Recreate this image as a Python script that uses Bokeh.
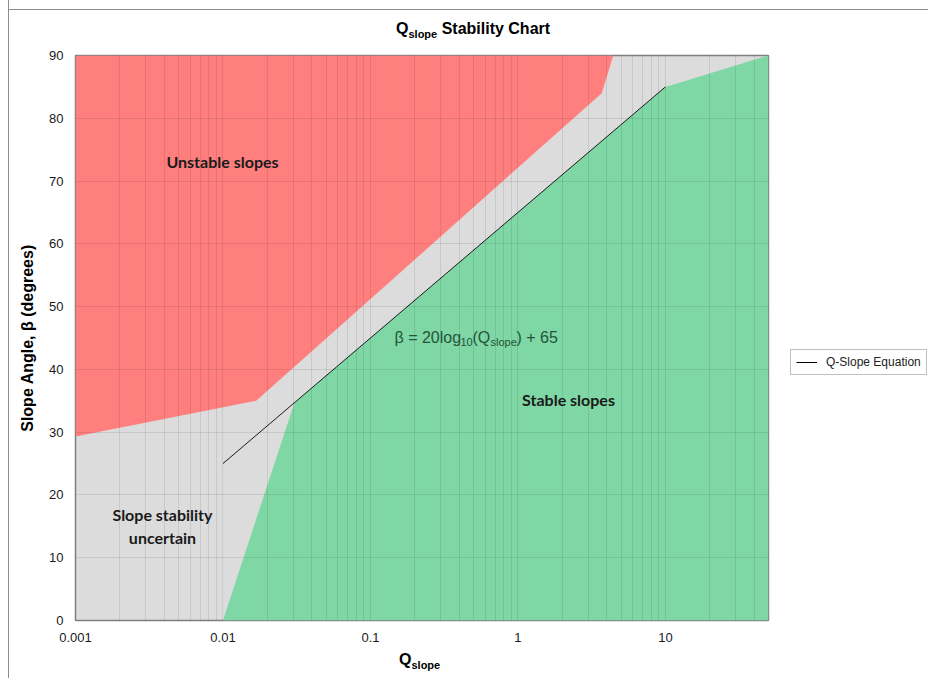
from bokeh.plotting import figure
from bokeh.models import Range1d, FixedTicker, Label, Legend, LegendItem, Div
from bokeh.layouts import column, row
from bokeh.embed import file_html
from bokeh.resources import INLINE

# ---- data ----
red_q = [0.001, 0.001, 0.0168, 3.7, 4.43]
red_beta = [90, 29.3, 35.0, 84.0, 90]
green_q = [0.01, 0.0305, 10, 50, 50]
green_beta = [0, 34.7, 85, 90, 0]
eq_q = [0.01, 10]
eq_beta = [25, 85]
x_ticks = [0.001, 0.01, 0.1, 1, 10]
x_tick_labels = ["0.001", "0.01", "0.1", "1", "10"]
x_max = 50
x_minor = [m * t for t in x_ticks for m in range(2, 10) if m * t <= x_max]
y_ticks = [0, 10, 20, 30, 40, 50, 60, 70, 80, 90]

W = 928
TITLE_H = 45
P_H = 605
XL_H = 28
P_W = 780
FT = 55 - TITLE_H          # frame top inside figure
FB = 620 - TITLE_H         # frame bottom inside figure

LINE_V = "linear-gradient(#8c8c8c, #8c8c8c) 8px 0px / 1px 100% no-repeat"
LINE_H = "linear-gradient(#8c8c8c, #8c8c8c) 8px 9px / 100% 1px no-repeat"

title_div = Div(width=W, height=TITLE_H, margin=0,
                styles={"background": LINE_V + ", " + LINE_H},
                text=('<div style="margin:0;padding:21px 0 0 396px;'
                      'font:bold 16px \'Liberation Sans\', Arial, sans-serif;'
                      'line-height:16px;color:#000;white-space:nowrap">'
                      'Q<span style="font-size:11px;position:relative;top:4px">slope</span>'
                      ' Stability Chart</div>'))

p = figure(width=P_W, height=P_H, x_axis_type="log",
           x_range=Range1d(0.001, x_max), y_range=Range1d(0, 90),
           output_backend="svg", toolbar_location=None,
           min_border_left=75, min_border_top=FT,
           min_border_right=P_W - 768, min_border_bottom=P_H - FB)
p.styles = {"background": LINE_V}
p.background_fill_color = "#DCDCDC"
p.border_fill_color = None
p.outline_line_color = "#7f7f7f"
p.outline_line_width = 1.5

p.patch(red_q, red_beta, fill_color="#FF7F7F", line_color=None)
p.patch(green_q, green_beta, fill_color="#7FD7A5", line_color=None)
p.line(eq_q, eq_beta, line_color="#1a1a1a", line_width=1)

# axes
p.xaxis.ticker = FixedTicker(ticks=x_ticks, minor_ticks=x_minor)
p.xaxis.major_label_overrides = {t: l for t, l in zip(x_ticks, x_tick_labels)}
p.yaxis.ticker = FixedTicker(ticks=y_ticks)
for ax in (p.xaxis, p.yaxis):
    ax.axis_line_color = None
    ax.major_tick_line_color = None
    ax.minor_tick_line_color = None
    ax.major_tick_out = 0
    ax.minor_tick_out = 0
    ax.major_label_text_font = "Liberation Sans"
    ax.major_label_text_font_size = "13px"
    ax.major_label_text_color = "#1a1a1a"
    ax.major_label_standoff = 12
p.xaxis.axis_label = None
p.yaxis.axis_label = "Slope Angle, β (degrees)"
p.yaxis.axis_label_text_font = "Liberation Sans"
p.yaxis.axis_label_text_font_style = "bold"
p.yaxis.axis_label_text_font_size = "16px"
p.yaxis.axis_label_text_color = "#000000"
p.yaxis.axis_label_standoff = 10

for g in (p.xgrid, p.ygrid):
    g.grid_line_color = "#000000"
    g.grid_line_alpha = 0.09
    g.level = "guide"
p.xgrid.minor_grid_line_color = "#000000"
p.xgrid.minor_grid_line_alpha = 0.09


def sx(px):
    return px - 75


def sy(py):
    return 620 - py


def lab(txt, x, y, size, bold=False, font="Liberation Sans", color="#000000",
        align="left", baseline="alphabetic"):
    p.add_layout(Label(x=sx(x), y=sy(y), x_units="screen", y_units="screen",
                       text=txt, text_font=font, text_font_size=size,
                       text_font_style="bold" if bold else "normal",
                       text_color=color, text_align=align,
                       text_baseline=baseline))


# region labels
lab("Unstable slopes", 222, 161, "16px", True, "Lato", "#1a1a1a", "center", "middle")
lab("Slope stability", 162, 514, "16px", True, "Lato", "#1a1a1a", "center", "middle")
lab("uncertain", 162, 537, "16px", True, "Lato", "#1a1a1a", "center", "middle")
lab("Stable slopes", 568, 399, "16px", True, "Lato", "#1a1a1a", "center", "middle")

# equation text
ec = "#23553A"
lab("β = 20log", 394, 337, "16px", False, color=ec)
lab("10", 460, 341, "11px", False, color=ec)
lab("(Q", 472, 337, "16px", False, color=ec)
lab("slope", 490, 341, "11px", False, color=ec)
lab(") + 65", 516, 337, "16px", False, color=ec)

# legend panel (separate figure to the right of the plot area)
L_W = W - P_W
lf = figure(width=L_W, height=P_H, x_range=Range1d(-2, -1), y_range=Range1d(-2, -1),
            output_backend="svg", toolbar_location=None,
            x_axis_location=None, y_axis_location=None,
            min_border=0)
lf.grid.visible = False
lf.outline_line_color = None
lf.background_fill_color = None
lf.border_fill_color = None
leg_line = lf.line(eq_q, eq_beta, line_color="#000000", line_width=1)
legend = Legend(items=[LegendItem(label="Q-Slope Equation", renderers=[leg_line])],
                location=(790 - P_W, 245))
legend.label_text_font = "Liberation Sans"
legend.label_text_font_size = "12px"
legend.label_text_color = "#222222"
legend.border_line_color = "#808080"
legend.border_line_width = 1
legend.background_fill_color = "white"
legend.glyph_width = 21
legend.glyph_height = 12
legend.label_standoff = 9
legend.padding = 5
legend.margin = 0
legend.spacing = 0
legend.label_height = 12
lf.add_layout(legend, "center")

xlab_div = Div(width=W, height=XL_H, margin=0,
               styles={"background": LINE_V},
               text=('<div style="margin:0;padding:2px 0 0 399px;'
                     'font:bold 16px \'Liberation Sans\', Arial, sans-serif;'
                     'line-height:16px;color:#000;white-space:nowrap">'
                     'Q<span style="font-size:11px;position:relative;top:4px">slope</span>'
                     '</div>'))

layout = column(title_div, row(p, lf, spacing=0), xlab_div, spacing=0)
open("out.html", "w").write(file_html(layout, INLINE))
